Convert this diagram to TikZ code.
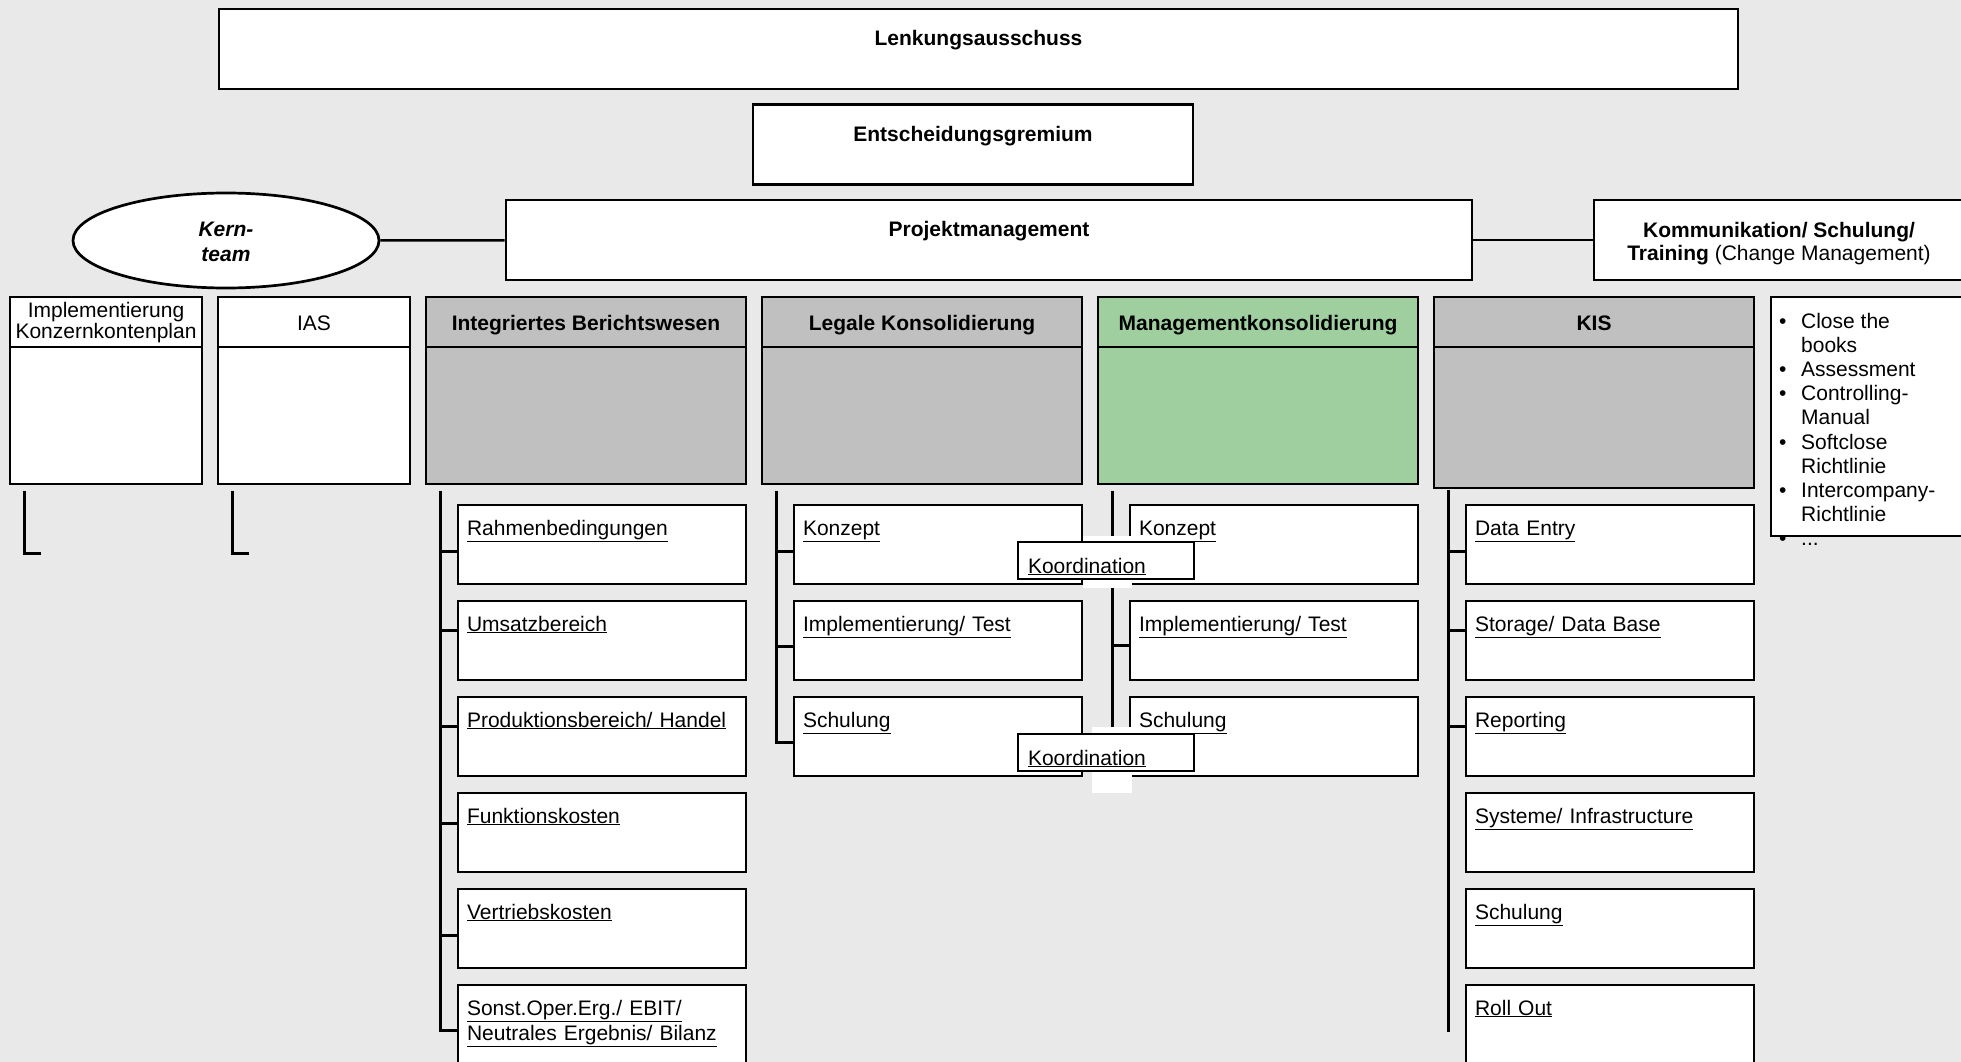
\documentclass[tikz,border=0pt]{standalone}
\usepackage{fontspec}
\setmainfont{Liberation Sans}
\usepackage{tikz}
\newcommand{\orgfont}{\fontsize{21}{25}\selectfont}
\tikzset{
    colhead/.style={ % top strip of a column
        boxline,
        minimum width=#1,
        text height=33pt,
        text depth=17pt,
        font=\orgfont\bfseries
    },
}
\usetikzlibrary{calc}
\usetikzlibrary{positioning}
\usetikzlibrary{shapes}

\definecolor{bggray}{RGB}{233,233,233}
\definecolor{headgray}{RGB}{192,192,192}
\definecolor{mkgreen}{RGB}{159,207,159}

\begin{document}
\begin{tikzpicture}[x=1pt,y=-1pt,font=\orgfont]
%% box shapes and lines
\tikzstyle{boxline}=[draw=black,line width=2.7pt,fill=white,inner sep=0pt]
\tikzstyle{topbox}=[boxline,text height=36.5pt,text depth=43.5pt,font=\orgfont\bfseries]
\tikzstyle{colbody}=[boxline,minimum width=#1,minimum height=137pt]
\tikzstyle{subbox}=[boxline,text width=270pt,inner xsep=9pt,text height=30pt,text depth=49pt,align=left]
\tikzstyle{koordbox}=[boxline,text width=156pt,inner xsep=10pt,text height=31pt,text depth=6pt,align=left]
\tikzstyle{link}=[line width=2.5pt]
\useasboundingbox (0,0) rectangle (1961,1062);
\fill[bggray] (0,0) rectangle (1961,1062);
%%%%%%%%%%%%%%%%%%%%%%%%%%%%%%%%%%%%%%%%%%%%%%%%%%%%%%%%%%%%%%%%%%%%%%%%
%TOP
\node[topbox,minimum width=1519pt] (lenk) at (978.5,49) {Lenkungsausschuss};
\node[topbox,minimum width=440pt] (entsch) at (973,144.5) {Entscheidungsgremium};
\node[topbox,minimum width=966pt] (pm) at (989,240) {Projektmanagement};
\node[boxline,ellipse,minimum width=306pt,minimum height=95pt] (kern) at (226,240.5) {};
\node[align=center,inner sep=0pt,font=\orgfont\bfseries\itshape] (kerntxt) at ($(kern.center)+(0,1.5)$) {Kern-\\team};
\node[boxline,minimum width=370pt,minimum height=80pt] (komm) at (1779,240) {};
\node[align=center,inner sep=0pt,font=\fontsize{21}{23}\selectfont] (kommtxt) at ($(komm.center)+(0,3.5)$) {\textbf{Kommunikation/ Schulung/}\\\textbf{Training} (Change Management)};
\draw[link] (kern) -- (pm);
\draw[link] (pm) -- (komm);

%%%%%%%%%%%%%%%%%%%%%%%%%%%%%%%%%%%%%%%%%%%%%%%%%%%%%%%%%%%%%%%%%%%%%%%%
%COLUMNS
%1
\node[boxline,minimum width=192pt,text width=192pt,align=center,text height=20pt,text depth=30pt,font=\fontsize{21}{21}\selectfont] (implh) at (106,322) {Implementierung\\Konzernkontenplan};
\node[colbody=192pt] (implb) at (106,415.5) {};
%2
\node[colhead=192pt,font=\orgfont] (iash) at (314,322) {IAS};
\node[colbody=192pt] (iasb) at (314,415.5) {};
%3
\node[colhead=320pt,fill=headgray] (ibh) at (586,322) {Integriertes Berichtswesen};
\node[colbody=320pt,fill=headgray] (ibb) at (586,415.5) {};
%4
\node[colhead=320pt,fill=headgray] (lkh) at (922,322) {Legale Konsolidierung};
\node[colbody=320pt,fill=headgray] (lkb) at (922,415.5) {};
%5
\node[colhead=320pt,fill=mkgreen] (mkh) at (1258,322) {Managementkonsolidierung};
\node[colbody=320pt,fill=mkgreen] (mkb) at (1258,415.5) {};
%6
\node[colhead=320pt,fill=headgray] (kish) at (1594,322) {KIS};
\node[colbody=320pt,fill=headgray,minimum height=141pt] (kisb) at (1594,417.5) {};
%list
\node[boxline,minimum width=193pt,minimum height=239pt] (list) at (1867.5,416.5) {};
\node[anchor=north west,inner sep=0pt,font=\fontsize{21}{24.2}\selectfont] (listtxt) at (1779,311) {%
\begin{tabular}{@{}l@{\hspace{14.6pt}}l@{}}
\textbullet & Close the\\
 & books\\
\textbullet & Assessment\\
\textbullet & Controlling-\\
 & Manual\\
\textbullet & Softclose\\
 & Richtlinie\\
\textbullet & Intercompany-\\
 & Richtlinie\\
\textbullet & ...
\end{tabular}};

%%%%%%%%%%%%%%%%%%%%%%%%%%%%%%%%%%%%%%%%%%%%%%%%%%%%%%%%%%%%%%%%%%%%%%%%
%SUB BOXES
%IB
\node[subbox] (ib1) at (602,544.5) {\underline{Rahmenbedingungen}};
\node[subbox] (ib2) at (602,640.5) {\underline{Umsatzbereich}};
\node[subbox] (ib3) at (602,736.5) {\underline{Produktionsbereich/ Handel}};
\node[subbox] (ib4) at (602,832.5) {\underline{Funktionskosten}};
\node[subbox] (ib5) at (602,928.5) {\underline{Vertriebskosten}};
\node[subbox] (ib6) at (602,1024.5) {\underline{Sonst.Oper.Erg./ EBIT/}\\\underline{Neutrales Ergebnis/ Bilanz}};
%LK
\node[subbox] (lk1) at (938,544.5) {\underline{Konzept}};
\node[subbox] (lk2) at (938,640.5) {\underline{Implementierung/ Test}};
\node[subbox] (lk3) at (938,736.5) {\underline{Schulung}};
%MK
\node[subbox] (mk1) at (1274,544.5) {\underline{Konzept}};
\node[subbox] (mk2) at (1274,640.5) {\underline{Implementierung/ Test}};
\node[subbox] (mk3) at (1274,736.5) {\underline{Schulung}};
%KIS
\node[subbox] (kis1) at (1610,544.5) {\underline{Data Entry}};
\node[subbox] (kis2) at (1610,640.5) {\underline{Storage/ Data Base}};
\node[subbox] (kis3) at (1610,736.5) {\underline{Reporting}};
\node[subbox] (kis4) at (1610,832.5) {\underline{Systeme/ Infrastructure}};
\node[subbox] (kis5) at (1610,928.5) {\underline{Schulung}};
\node[subbox] (kis6) at (1610,1024.5) {\underline{Roll Out}};

%%%%%%%%%%%%%%%%%%%%%%%%%%%%%%%%%%%%%%%%%%%%%%%%%%%%%%%%%%%%%%
%LINES
%impl, ias
\coordinate (implend) at ($(implb.south west)+(32,68)$);
\coordinate (iasend) at ($(iasb.south west)+(32,68)$);
\draw[link] ($(implb.south west)+(16,6)$) |- (implend);
\draw[link] ($(iasb.south west)+(16,6)$) |- (iasend);
%IB
\coordinate (ibtop) at ($(ibb.south west)+(16,6)$);
\coordinate (ib1t) at ($(ib1.north west)+(0,48)$);
\coordinate (ib2t) at ($(ib2.north west)+(0,31)$);
\coordinate (ib3t) at ($(ib3.north west)+(0,31)$);
\coordinate (ib4t) at ($(ib4.north west)+(0,32)$);
\coordinate (ib5t) at ($(ib5.north west)+(0,48)$);
\coordinate (ib6t) at ($(ib6.north west)+(0,47)$);
\draw[link] (ibtop) |- (ib6t);
\draw[link] (ibtop |- ib1t) -- (ib1t);
\draw[link] (ibtop |- ib2t) -- (ib2t);
\draw[link] (ibtop |- ib3t) -- (ib3t);
\draw[link] (ibtop |- ib4t) -- (ib4t);
\draw[link] (ibtop |- ib5t) -- (ib5t);
%LK
\coordinate (lktop) at ($(lkb.south west)+(16,6)$);
\coordinate (lk1t) at ($(lk1.north west)+(0,48)$);
\coordinate (lk2t) at ($(lk2.north west)+(0,47)$);
\coordinate (lk3t) at ($(lk3.north west)+(0,47)$);
\draw[link] (lktop) |- (lk3t);
\draw[link] (lktop |- lk1t) -- (lk1t);
\draw[link] (lktop |- lk2t) -- (lk2t);
%MK
\coordinate (mktop) at ($(mkb.south west)+(16,6)$);
\coordinate (mk1t) at ($(mk1.north west)+(0,48)$);
\coordinate (mk2t) at ($(mk2.north west)+(0,46)$);
\coordinate (mk3t) at ($(mk3.north west)+(0,47)$);
\draw[link] (mktop) |- (mk3t);
\draw[link] (mktop |- mk1t) -- (mk1t);
\draw[link] (mktop |- mk2t) -- (mk2t);
%KIS
\coordinate (kistop) at ($(kisb.south west)+(16,1)$);
\coordinate (kisend) at ($(kis6.north west)+(-16,48)$);
\coordinate (kis1t) at ($(kis1.north west)+(0,48)$);
\coordinate (kis2t) at ($(kis2.north west)+(0,31)$);
\coordinate (kis3t) at ($(kis3.north west)+(0,31)$);
\draw[link] (kistop) -- (kisend);
\draw[link] (kistop |- kis1t) -- (kis1t);
\draw[link] (kistop |- kis2t) -- (kis2t);
\draw[link] (kistop |- kis3t) -- (kis3t);

%%%%%%%%%%%%%%%%%%%%%%%%%%%%%%%%%%%%%%%%%%%%%%%%%%%%%%%%%%%%%%
% KOORDINATION
\fill[white] (1083,536) rectangle (1132,588);
\fill[white] (1092,727) rectangle (1132,793);
\node[koordbox] (koord1) at (1106,560.5) {\underline{Koordination}};
\node[koordbox] (koord2) at (1106,752.5) {\underline{Koordination}};
\end{tikzpicture}
\end{document}
